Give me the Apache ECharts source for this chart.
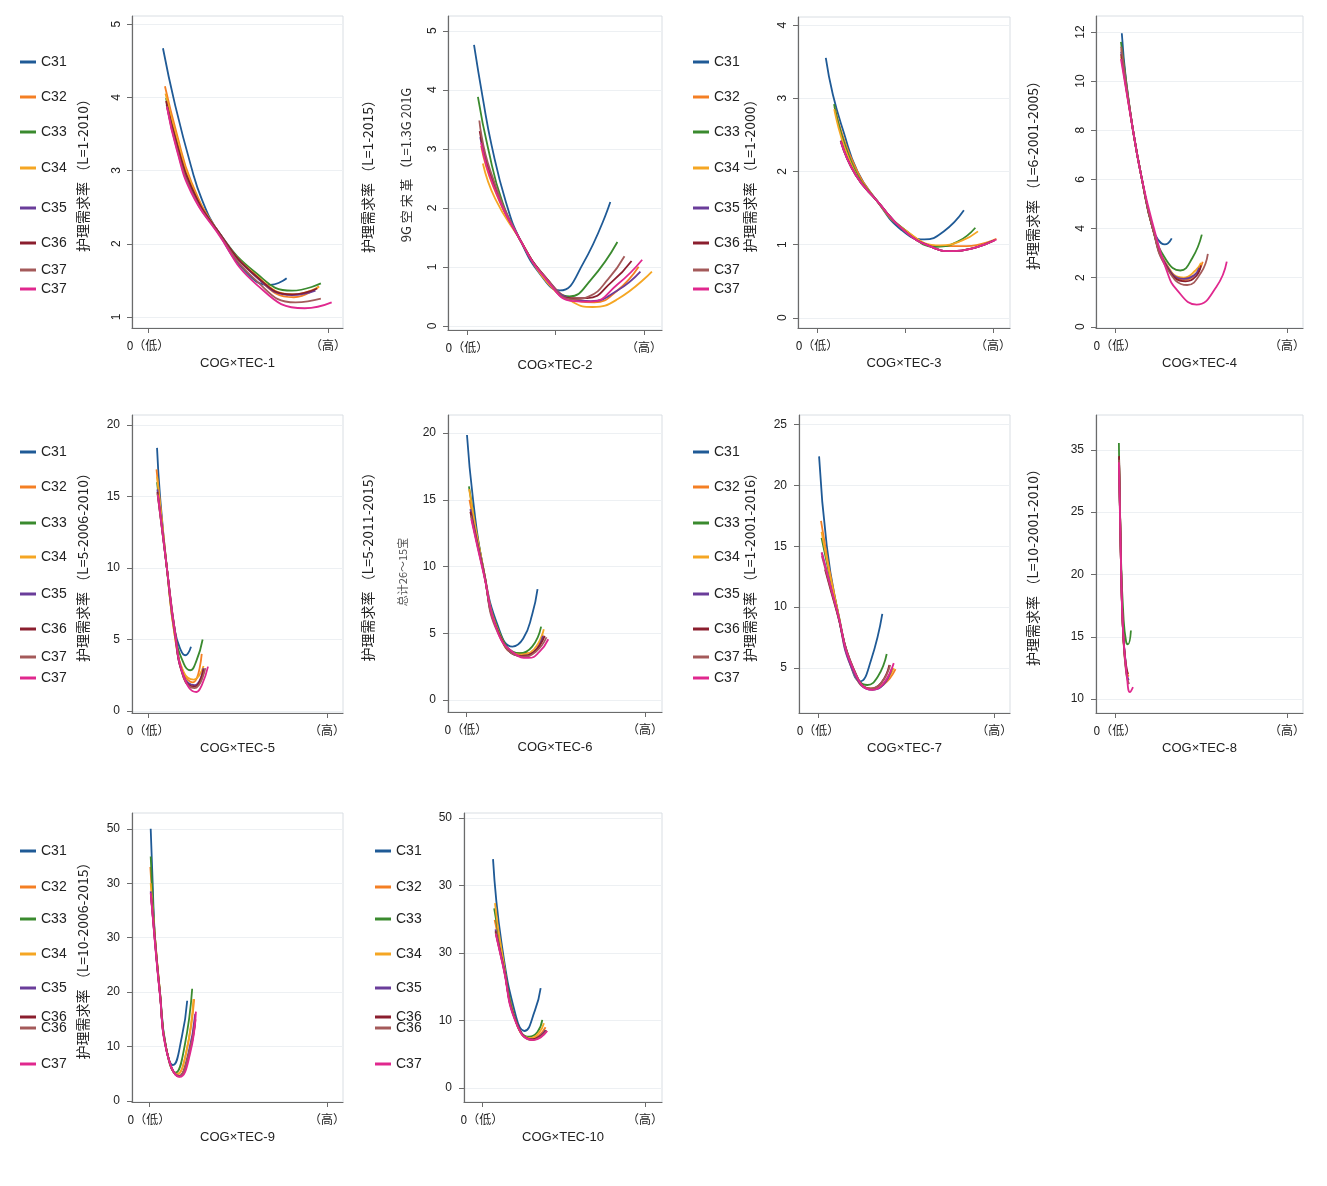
<!DOCTYPE html>
<html>
<head>
<meta charset="utf-8">
<script src="https://cdn.jsdelivr.net/npm/echarts@6/dist/echarts.min.js"></script>
<style>
  html, body { margin: 0; padding: 0; background: #fff; }
  #chart { width: 1327px; height: 1186px; }
</style>
</head>
<body>
<div id="chart"></div>
<script>
// series / legend
var seriesNames = ['C31', 'C32', 'C33', 'C34', 'C35', 'C36', 'C37', 'C37'];
var seriesColors = ['#1f5a96', '#f47f24', '#3a8a2e', '#f5a623', '#6a3d9a', '#8b1e2e', '#a45a5a', '#e0288e'];
var legendNamesB = ['C31', 'C32', 'C33', 'C34', 'C35', 'C36', 'C36', 'C37'];

// x axis
var xTicks = [0, 1];
var xTickLabels = ['0（低）', '（高）'];
var xNames = ['COG×TEC-1', 'COG×TEC-2', 'COG×TEC-3', 'COG×TEC-4', 'COG×TEC-5',
  'COG×TEC-6', 'COG×TEC-7', 'COG×TEC-8', 'COG×TEC-9', 'COG×TEC-10'];

// y axis names
var yNames = ['护理需求率 （L=1-2010）', '护理需求率 （L=1-2015）', '护理需求率 （L=1-2000）',
  '护理需求率 （L=6-2001-2005）', '护理需求率 （L=5-2006-2010）', '护理需求率 （L=5-2011-2015）',
  '护理需求率 （L=1-2001-2016）', '护理需求率 （L=10-2001-2010）', '护理需求率 （L=10-2006-2015）', ''];

// y ticks and the labels printed at them
var yTicks = [
  [1, 2, 3, 4, 5],
  [0, 1, 2, 3, 4, 5],
  [0, 1, 2, 3, 4],
  [0, 2, 4, 6, 8, 10, 12],
  [0, 5, 10, 15, 20],
  [0, 5, 10, 15, 20],
  [5, 10, 15, 20, 25],
  [10, 15, 20, 25, 30],
  [0, 10, 20, 30, 40, 50],
  [0, 10, 20, 30, 40]
];
var yTickLabels = [
  ['1', '2', '3', '4', '5'],
  ['0', '1', '2', '3', '4', '5'],
  ['0', '1', '2', '3', '4'],
  ['0', '2', '4', '6', '8', '10', '12'],
  ['0', '5', '10', '15', '20'],
  ['0', '5', '10', '15', '20'],
  ['5', '10', '15', '20', '25'],
  ['10', '15', '20', '25', '35'],
  ['0', '10', '20', '30', '30', '50'],
  ['0', '10', '30', '30', '50']
];

// curves, [x, y], one list per series: C31, C32, C33, C34, C35, C36, C37, C37
var tec1 = [
  [[0.083,4.67],[0.15,3.9],[0.24,3.05],[0.3,2.6],[0.38,2.2],[0.55,1.6],[0.68,1.44],[0.77,1.53]],
  [[0.094,4.15],[0.16,3.5],[0.24,2.85],[0.38,2.2],[0.58,1.6],[0.81,1.27],[0.95,1.42]],
  [[0.10,3.99],[0.16,3.4],[0.24,2.8],[0.38,2.2],[0.6,1.6],[0.8,1.36],[0.96,1.46]],
  [[0.097,4.05],[0.16,3.45],[0.24,2.82],[0.38,2.2],[0.6,1.57],[0.81,1.31],[0.95,1.41]],
  [[0.103,3.9],[0.16,3.33],[0.24,2.75],[0.38,2.2],[0.6,1.55],[0.8,1.3],[0.93,1.36]],
  [[0.1,3.95],[0.16,3.37],[0.24,2.78],[0.38,2.2],[0.6,1.56],[0.8,1.31],[0.94,1.39]],
  [[0.105,3.88],[0.16,3.3],[0.24,2.72],[0.38,2.18],[0.6,1.5],[0.82,1.2],[0.96,1.25]],
  [[0.105,3.87],[0.16,3.28],[0.24,2.7],[0.38,2.17],[0.6,1.45],[0.87,1.12],[1.02,1.2]]
];
var tec2 = [
  [[0.04,4.76],[0.09,3.85],[0.14,3.05],[0.22,2.1],[0.30,1.46],[0.42,0.85],[0.525,0.6],[0.655,1.05],[0.81,2.1]],
  [[0.08,3.05],[0.15,2.35],[0.3,1.46],[0.45,0.8],[0.6,0.45],[0.72,0.4],[0.85,0.6],[0.97,1.0]],
  [[0.062,3.88],[0.12,3.0],[0.2,2.1],[0.3,1.46],[0.45,0.78],[0.58,0.5],[0.7,0.78],[0.85,1.42]],
  [[0.09,2.75],[0.16,2.15],[0.3,1.46],[0.45,0.75],[0.6,0.4],[0.71,0.32],[0.85,0.45],[1.045,0.92]],
  [[0.075,3.2],[0.15,2.4],[0.3,1.46],[0.45,0.8],[0.6,0.45],[0.7,0.42],[0.85,0.6],[0.98,0.92]],
  [[0.072,3.3],[0.15,2.42],[0.3,1.46],[0.45,0.8],[0.58,0.47],[0.68,0.47],[0.82,0.75],[0.93,1.1]],
  [[0.07,3.48],[0.13,2.65],[0.3,1.46],[0.45,0.8],[0.6,0.45],[0.69,0.5],[0.8,0.8],[0.89,1.18]],
  [[0.08,3.1],[0.15,2.37],[0.3,1.46],[0.45,0.78],[0.6,0.42],[0.7,0.41],[0.85,0.7],[0.99,1.12]]
];
var tec3 = [
  [[0.05,3.55],[0.09,3.05],[0.15,2.55],[0.23,2.0],[0.34,1.6],[0.48,1.2],[0.61,1.07],[0.72,1.18],[0.835,1.47]],
  [[0.1,2.88],[0.2,2.15],[0.34,1.6],[0.5,1.2],[0.7,0.98],[0.85,0.98],[1.02,1.08]],
  [[0.097,2.92],[0.2,2.1],[0.34,1.6],[0.5,1.2],[0.68,0.97],[0.8,1.04],[0.9,1.23]],
  [[0.098,2.85],[0.2,2.07],[0.34,1.6],[0.5,1.2],[0.7,0.99],[0.82,1.05],[0.915,1.18]],
  [[0.134,2.42],[0.22,1.95],[0.34,1.6],[0.5,1.18],[0.65,0.97],[0.77,0.91],[0.9,0.96],[1.0,1.05]],
  [[0.135,2.42],[0.22,1.95],[0.34,1.6],[0.5,1.18],[0.65,0.97],[0.77,0.91],[0.9,0.96],[1.01,1.06]],
  [[0.135,2.41],[0.22,1.95],[0.34,1.6],[0.5,1.18],[0.65,0.97],[0.77,0.91],[0.9,0.96],[1.01,1.06]],
  [[0.136,2.41],[0.22,1.95],[0.34,1.6],[0.5,1.18],[0.65,0.97],[0.77,0.91],[0.9,0.96],[1.02,1.07]]
];
var tec4 = [
  [[0.04,11.95],[0.065,10.0],[0.105,8.0],[0.157,6.0],[0.22,4.0],[0.25,3.55],[0.29,3.35],[0.33,3.6]],
  [[0.037,11.3],[0.105,8.0],[0.157,6.0],[0.22,4.0],[0.3,2.55],[0.4,1.9],[0.47,2.15],[0.51,2.65]],
  [[0.035,11.6],[0.065,10.0],[0.105,8.0],[0.157,6.0],[0.22,4.0],[0.3,2.7],[0.38,2.29],[0.45,2.8],[0.505,3.75]],
  [[0.036,11.0],[0.105,8.0],[0.157,6.0],[0.22,4.0],[0.3,2.5],[0.4,2.0],[0.47,2.3],[0.5,2.6]],
  [[0.036,11.2],[0.105,8.0],[0.157,6.0],[0.22,4.0],[0.3,2.5],[0.4,1.95],[0.46,2.1],[0.49,2.4]],
  [[0.036,11.1],[0.105,8.0],[0.157,6.0],[0.22,4.0],[0.3,2.45],[0.41,1.85],[0.47,2.05],[0.5,2.5]],
  [[0.036,11.4],[0.105,8.0],[0.157,6.0],[0.22,4.0],[0.3,2.4],[0.42,1.7],[0.5,2.2],[0.54,2.97]],
  [[0.035,10.9],[0.105,8.0],[0.157,6.0],[0.227,4.0],[0.3,2.3],[0.36,1.5],[0.475,0.9],[0.59,1.63],[0.65,2.65]]
];
var tec5 = [
  [[0.05,18.4],[0.067,15.0],[0.105,10.0],[0.15,5.6],[0.185,4.2],[0.207,3.9],[0.24,4.5]],
  [[0.047,16.9],[0.105,10.0],[0.15,5.2],[0.2,2.6],[0.25,2.0],[0.3,4.0]],
  [[0.05,16.0],[0.105,10.0],[0.15,5.4],[0.2,3.3],[0.235,2.85],[0.27,3.5],[0.305,5.0]],
  [[0.05,16.4],[0.105,10.0],[0.15,5.2],[0.2,2.7],[0.255,2.2],[0.31,3.15]],
  [[0.052,15.5],[0.105,10.0],[0.15,5.4],[0.2,2.4],[0.26,1.8],[0.31,3.0]],
  [[0.052,15.3],[0.105,10.0],[0.15,5.6],[0.2,2.3],[0.26,1.7],[0.31,2.9]],
  [[0.053,15.2],[0.105,10.0],[0.15,5.6],[0.2,2.3],[0.26,1.6],[0.32,3.0]],
  [[0.055,15.1],[0.105,10.0],[0.15,5.5],[0.2,2.4],[0.27,1.33],[0.3,1.8],[0.335,3.1]]
];
var tec6 = [
  [[0.006,19.85],[0.04,15.0],[0.095,10.0],[0.18,5.5],[0.26,4.0],[0.32,4.6],[0.37,6.4],[0.40,8.3]],
  [[0.02,15.0],[0.095,10.0],[0.18,5.2],[0.28,3.5],[0.36,3.5],[0.43,4.9]],
  [[0.017,16.0],[0.095,10.0],[0.18,5.3],[0.3,3.5],[0.37,4.0],[0.42,5.5]],
  [[0.018,15.8],[0.095,10.0],[0.18,5.2],[0.3,3.4],[0.38,3.8],[0.435,5.3]],
  [[0.025,14.3],[0.097,9.8],[0.18,5.1],[0.31,3.3],[0.38,3.6],[0.43,4.8]],
  [[0.025,14.1],[0.097,9.7],[0.18,5.1],[0.31,3.3],[0.38,3.6],[0.44,4.8]],
  [[0.028,13.8],[0.1,9.5],[0.18,5.0],[0.32,3.25],[0.39,3.6],[0.45,4.7]],
  [[0.03,13.55],[0.1,9.4],[0.18,5.0],[0.27,3.5],[0.35,3.15],[0.41,3.6],[0.46,4.55]]
];
var tec7 = [
  [[0.006,22.4],[0.05,15.0],[0.107,10.0],[0.18,5.5],[0.24,3.9],[0.3,5.6],[0.365,9.45]],
  [[0.017,17.1],[0.107,10.0],[0.2,4.9],[0.3,3.3],[0.37,3.6],[0.44,4.9]],
  [[0.02,15.7],[0.107,10.0],[0.2,4.8],[0.28,3.6],[0.34,4.3],[0.39,6.15]],
  [[0.02,16.2],[0.107,10.0],[0.2,4.7],[0.3,3.3],[0.37,3.7],[0.43,5.0]],
  [[0.022,14.5],[0.107,9.7],[0.2,4.7],[0.31,3.2],[0.37,3.6],[0.42,5.0]],
  [[0.04,13.1],[0.107,9.6],[0.2,5.0],[0.3,3.3],[0.36,3.8],[0.405,5.25]],
  [[0.022,14.2],[0.107,9.7],[0.2,5.0],[0.3,3.3],[0.36,3.8],[0.41,5.25]],
  [[0.02,14.5],[0.107,9.8],[0.2,4.9],[0.31,3.2],[0.37,3.7],[0.43,5.4]]
];
var tec8 = [
  [[0.024,29.0],[0.035,21.0],[0.047,15.5],[0.062,13.0]],
  [[0.024,29.0],[0.035,21.0],[0.047,15.5],[0.065,12.3],[0.08,11.8]],
  [[0.023,30.56],[0.035,21.5],[0.05,16.5],[0.065,14.6],[0.076,14.4],[0.093,15.5]],
  [[0.024,29.0],[0.035,21.0],[0.047,15.5],[0.065,12.4],[0.078,12.0]],
  [[0.024,29.0],[0.035,21.0],[0.047,15.5],[0.066,12.2],[0.08,11.5]],
  [[0.024,29.5],[0.035,21.0],[0.047,15.5],[0.06,13.2],[0.075,12.0]],
  [[0.024,29.2],[0.035,21.0],[0.047,15.5],[0.066,12.0],[0.082,11.2]],
  [[0.023,29.0],[0.035,20.9],[0.047,15.5],[0.07,11.8],[0.087,10.56],[0.105,10.96]]
];
var tec9 = [
  [[0.01,50.0],[0.02,41.0],[0.034,30.0],[0.062,20.0],[0.095,10.0],[0.135,6.6],[0.185,11.8],[0.215,18.4]],
  [[0.008,43.0],[0.02,36.5],[0.034,30.0],[0.062,20.0],[0.095,10.0],[0.16,5.0],[0.21,9.0],[0.254,18.7]],
  [[0.01,44.9],[0.02,38.0],[0.034,30.0],[0.062,20.0],[0.095,10.0],[0.15,5.2],[0.2,10.0],[0.243,20.6]],
  [[0.01,40.0],[0.034,30.0],[0.062,20.0],[0.095,10.0],[0.16,4.9],[0.21,9.0],[0.25,18.7]],
  [[0.01,38.5],[0.034,29.5],[0.062,19.7],[0.097,9.6],[0.17,4.6],[0.22,8.5],[0.26,16.0]],
  [[0.011,38.0],[0.034,29.3],[0.062,19.6],[0.098,9.4],[0.17,4.5],[0.22,8.0],[0.26,14.2]],
  [[0.011,38.0],[0.034,29.3],[0.062,19.6],[0.098,9.4],[0.17,4.5],[0.22,8.2],[0.262,15.0]],
  [[0.01,38.2],[0.034,29.0],[0.062,19.5],[0.1,9.0],[0.174,4.4],[0.23,8.5],[0.264,16.4]]
];
var tec10 = [
  [[0.068,33.9],[0.12,21.5],[0.21,10.5],[0.26,8.45],[0.325,11.5],[0.36,14.8]],
  [[0.078,24.9],[0.12,20.0],[0.21,9.7],[0.3,7.3],[0.35,7.8],[0.39,9.0]],
  [[0.075,26.6],[0.12,20.5],[0.21,9.8],[0.29,7.6],[0.34,8.3],[0.37,10.1]],
  [[0.08,27.4],[0.12,20.5],[0.21,9.7],[0.3,7.4],[0.35,8.2],[0.38,9.6]],
  [[0.083,23.5],[0.13,18.3],[0.21,9.8],[0.31,7.2],[0.36,7.8],[0.39,8.6]],
  [[0.083,23.2],[0.13,18.2],[0.21,9.8],[0.31,7.2],[0.36,7.7],[0.395,8.5]],
  [[0.084,23.0],[0.13,18.1],[0.21,9.7],[0.31,7.1],[0.36,7.6],[0.398,8.5]],
  [[0.085,22.8],[0.13,18.0],[0.21,9.6],[0.315,7.1],[0.36,7.5],[0.40,8.45]]
];
var panelData = [tec1, tec2, tec3, tec4, tec5, tec6, tec7, tec8, tec9, tec10];

// plot frames (pixels) and axis extents
var frames = [
  {left: 132, top: 16, width: 211, height: 312, xr: [-0.089, 1.083], yr: [0.85, 5.11], rot: 90, gap: 42, mid: false},
  {left: 448, top: 16, width: 214, height: 314, xr: [-0.107, 1.102], yr: [-0.07, 5.25], rot: 90, gap: 73, mid: true},
  {left: 798, top: 17, width: 212, height: 311, xr: [-0.108, 1.097], yr: [-0.14, 4.11], rot: 90, gap: 41, mid: true},
  {left: 1096, top: 16, width: 207, height: 312, xr: [-0.11, 1.093], yr: [-0.05, 12.65], rot: 90, gap: 56, mid: false},
  {left: 132, top: 415, width: 211, height: 298, xr: [-0.09, 1.09], yr: [-0.14, 20.7], rot: 0, gap: 42, mid: false},
  {left: 448, top: 415, width: 214, height: 297, xr: [-0.1, 1.095], yr: [-0.9, 21.35], rot: 0, gap: 73, mid: false},
  {left: 799, top: 415, width: 211, height: 298, xr: [-0.108, 1.09], yr: [1.3, 25.8], rot: 0, gap: 42, mid: false},
  {left: 1096, top: 415, width: 207, height: 298, xr: [-0.11, 1.093], yr: [8.88, 32.8], rot: 0, gap: 56, mid: false},
  {left: 132, top: 813, width: 211, height: 289, xr: [-0.095, 1.09], yr: [-0.2, 52.9], rot: 0, gap: 42, mid: false},
  {left: 464, top: 813, width: 198, height: 289, xr: [-0.11, 1.104], yr: [-2.07, 40.74], rot: 0, gap: 42, mid: false}
];

var legendRowsY = [
  [62, 97, 132, 168, 208, 243, 270, 289],
  [452, 487, 523, 557, 594, 629, 657, 678],
  [851, 887, 919, 954, 988, 1017, 1028, 1064]
];
var legends = [
  {x: 20, row: 0, names: seriesNames},
  {x: 693, row: 0, names: seriesNames},
  {x: 20, row: 1, names: seriesNames},
  {x: 693, row: 1, names: seriesNames},
  {x: 20, row: 2, names: legendNamesB},
  {x: 375, row: 2, names: legendNamesB}
];

var FONT = '"Liberation Sans", Arial, "Noto Sans CJK SC", sans-serif';
var CJK = '"Noto Sans CJK SC", "Liberation Sans", sans-serif';

function pickLabel(ticks, labels) {
  return function (v) {
    for (var i = 0; i < ticks.length; i++) {
      if (Math.abs(ticks[i] - v) < 1e-6) return labels[i];
    }
    return '';
  };
}

var grids = [], xAxes = [], yAxes = [], series = [], graphics = [];

frames.forEach(function (f, p) {
  grids.push({
    left: f.left, top: f.top, width: f.width, height: f.height,
    show: true, borderColor: '#d9dee3', borderWidth: 1, backgroundColor: '#fff'
  });
  xAxes.push({
    type: 'value', gridIndex: p, min: f.xr[0], max: f.xr[1],
    name: xNames[p], nameLocation: 'middle', nameGap: 29,
    nameTextStyle: {fontFamily: FONT, fontSize: 13, color: '#222'},
    axisLine: {show: true, onZero: false, lineStyle: {color: '#6b6b6b', width: 1.2}},
    axisTick: {show: true, length: 5, customValues: f.mid ? [0, 0.5, 1] : xTicks, lineStyle: {color: '#6b6b6b'}},
    axisLabel: {customValues: xTicks, formatter: pickLabel(xTicks, xTickLabels), margin: 11,
      fontFamily: CJK, fontSize: 12, color: '#222'},
    splitLine: {show: false}
  });
  yAxes.push({
    type: 'value', gridIndex: p, min: f.yr[0], max: f.yr[1],
    name: yNames[p], nameLocation: 'middle', nameGap: f.gap, nameRotate: 90,
    nameTextStyle: {fontFamily: CJK, fontSize: 14, color: '#222'},
    axisLine: {show: true, onZero: false, lineStyle: {color: '#6b6b6b', width: 1.2}},
    axisTick: {show: true, length: 5, customValues: yTicks[p], lineStyle: {color: '#6b6b6b'}},
    axisLabel: {customValues: yTicks[p], formatter: pickLabel(yTicks[p], yTickLabels[p]),
      rotate: f.rot, margin: f.rot ? 9 : 12, fontFamily: FONT, fontSize: 12, color: '#222'},
    splitLine: {show: true, lineStyle: {color: '#edf0f3', width: 1}}
  });
  panelData[p].forEach(function (curve, k) {
    series.push({
      name: seriesNames[k], type: 'line', xAxisIndex: p, yAxisIndex: p,
      data: curve, showSymbol: false, smooth: 0.5,
      lineStyle: {color: seriesColors[k], width: 1.8}, itemStyle: {color: seriesColors[k]},
      z: 2 + k
    });
  });
});

legends.forEach(function (lg) {
  var ys = legendRowsY[lg.row];
  lg.names.forEach(function (nm, i) {
    graphics.push({
      type: 'line', shape: {x1: lg.x, y1: ys[i], x2: lg.x + 16, y2: ys[i]},
      style: {stroke: seriesColors[i], lineWidth: 3}
    });
    graphics.push({
      type: 'text', x: lg.x + 21, y: ys[i],
      style: {text: nm, fontFamily: FONT, fontSize: 14, fill: '#222', verticalAlign: 'middle', align: 'left'}
    });
  });
});

// stray secondary captions printed beside two of the y axes
graphics.push({
  type: 'text', x: 406, y: 165, rotation: Math.PI / 2,
  style: {text: '9G 空 宋 革 （L=1.3G 201G', fontFamily: CJK, fontSize: 13, fill: '#333', align: 'center', verticalAlign: 'middle'}
});
graphics.push({
  type: 'text', x: 403, y: 572, rotation: Math.PI / 2,
  style: {text: '总计26～15宝', fontFamily: CJK, fontSize: 11, fill: '#555', align: 'center', verticalAlign: 'middle'}
});

var chart = echarts.init(document.getElementById('chart'), null, {renderer: 'canvas'});
chart.setOption({
  backgroundColor: '#fff',
  animation: false,
  grid: grids,
  xAxis: xAxes,
  yAxis: yAxes,
  series: series,
  graphic: graphics
});
</script>
</body>
</html>
